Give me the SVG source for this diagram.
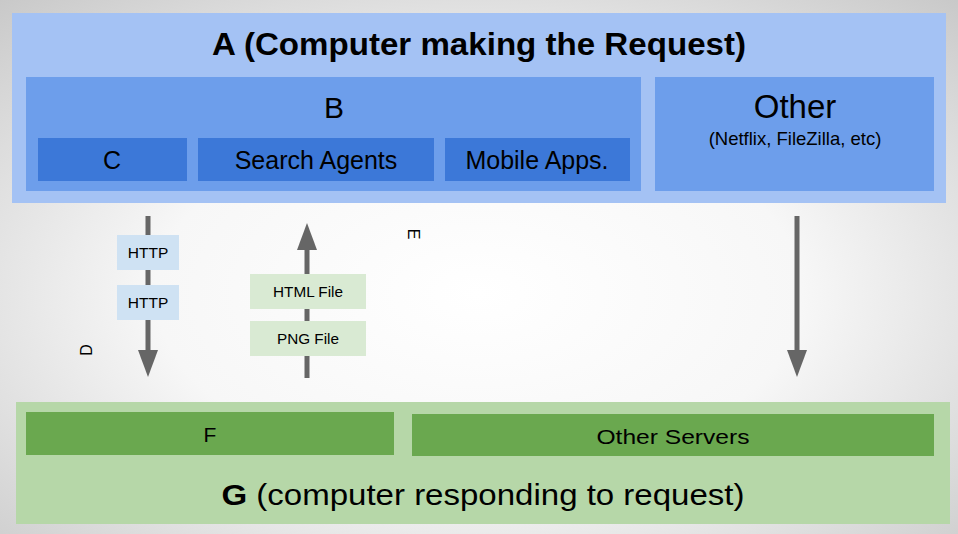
<svg xmlns="http://www.w3.org/2000/svg" width="958" height="534" viewBox="0 0 958 534">
<defs>
<radialGradient id="bg" cx="0.5" cy="0.55" r="0.75">
<stop offset="0" stop-color="#ffffff"/>
<stop offset="0.45" stop-color="#f7f7f7"/>
<stop offset="1" stop-color="#c8c8c8"/>
</radialGradient>
</defs>
<style>
text{font-family:"Liberation Sans",Arial,sans-serif;fill:#000;text-anchor:middle}
.conn line{stroke:#666666;stroke-width:5}
.head{fill:#666666}
</style>
<rect width="958" height="534" fill="url(#bg)"/>
<g id="A">
<rect x="12" y="13" width="934" height="190" fill="#a4c2f4"/>
<text x="479" y="55" font-size="32" font-weight="bold" textLength="534" lengthAdjust="spacingAndGlyphs">A (Computer making the Request)</text>
</g>
<g id="B">
<rect x="26" y="77" width="615" height="114" fill="#6d9eeb"/>
<text x="334" y="118" font-size="30">B</text>
</g>
<g id="C">
<rect x="38" y="138" width="149" height="43" fill="#3c78d8"/>
<text x="112" y="169" font-size="25">C</text>
</g>
<g id="SearchAgents">
<rect x="198" y="138" width="236" height="43" fill="#3c78d8"/>
<text x="316" y="169" font-size="25">Search Agents</text>
</g>
<g id="MobileApps">
<rect x="445" y="138" width="185" height="43" fill="#3c78d8"/>
<text x="537" y="169" font-size="25">Mobile Apps.</text>
</g>
<g id="Other">
<rect x="655" y="77" width="279" height="114" fill="#6d9eeb"/>
<text x="795" y="118" font-size="33">Other</text>
<text x="795" y="145" font-size="18.5">(Netflix, FileZilla, etc)</text>
</g>
<g class="conn" id="connectors">
<line x1="148" y1="216" x2="148" y2="352"/>
<path class="head" d="M138,350 L158,350 L148,377 Z"/>
<line x1="307" y1="378" x2="307" y2="248"/>
<path class="head" d="M297,250 L317,250 L307,223 Z"/>
<line x1="797" y1="216" x2="797" y2="352"/>
<path class="head" d="M787,350 L807,350 L797,377 Z"/>
</g>
<g id="HTTP1">
<rect x="117" y="235" width="62" height="35" fill="#cfe2f3"/>
<text x="148" y="258" font-size="15.5">HTTP</text>
</g>
<g id="HTTP2">
<rect x="117" y="285" width="62" height="35" fill="#cfe2f3"/>
<text x="148" y="308" font-size="15.5">HTTP</text>
</g>
<g id="HTMLFile">
<rect x="250" y="274" width="116" height="35" fill="#d9ead3"/>
<text x="308" y="297" font-size="15.3">HTML File</text>
</g>
<g id="PNGFile">
<rect x="250" y="321" width="116" height="35" fill="#d9ead3"/>
<text x="308" y="344" font-size="15.3">PNG File</text>
</g>
<g id="D">
<text x="0" y="0" font-size="16" transform="translate(86,350) rotate(-90) translate(0,6)">D</text>
</g>
<g id="E">
<text x="0" y="0" font-size="16" transform="translate(414,234) rotate(90) translate(0,6)">E</text>
</g>
<g id="G">
<rect x="16" y="402" width="934" height="122" fill="#b6d7a8"/>
<text x="483" y="505" font-size="29" textLength="523" lengthAdjust="spacingAndGlyphs"><tspan font-weight="bold">G</tspan> (computer responding to request)</text>
</g>
<g id="F">
<rect x="26" y="412" width="368" height="43" fill="#6aa84f"/>
<text x="210" y="442" font-size="21">F</text>
</g>
<g id="OtherServers">
<rect x="412" y="414" width="522" height="42" fill="#6aa84f"/>
<text x="673" y="444" font-size="21" textLength="153" lengthAdjust="spacingAndGlyphs">Other Servers</text>
</g>
</svg>
